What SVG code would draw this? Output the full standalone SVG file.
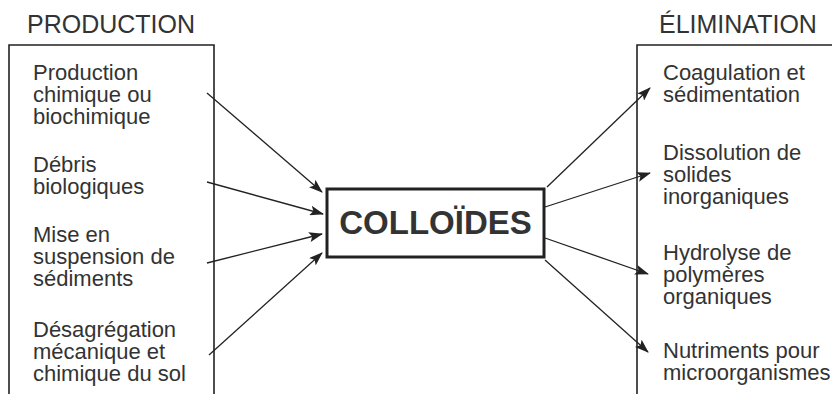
<svg xmlns="http://www.w3.org/2000/svg" width="832" height="394" viewBox="0 0 832 394">
<defs>
<style>
.t{font-family:"Liberation Sans",Arial,sans-serif;font-size:22px;fill:#333}
.h{font-family:"Liberation Sans",Arial,sans-serif;font-size:25px;fill:#333}
.frame{fill:none;stroke:#222;stroke-width:1.6}
.c{stroke:#222;stroke-width:1.3;fill:none;marker-end:url(#ah)}
</style>
<marker id="ah" markerUnits="userSpaceOnUse" markerWidth="14" markerHeight="10" refX="13" refY="5" orient="auto">
<path d="M0,0 L14,5 L0,10 L3,5 Z" fill="#222"/>
</marker>
</defs>
<rect width="832" height="394" fill="#fff"/>
<g id="production">
<text class="h" x="27" y="33">PRODUCTION</text>
<path class="frame" d="M9,394 V45 H214 V394"/>
<text class="t" x="33" y="80">Production</text>
<text class="t" x="33" y="102">chimique ou</text>
<text class="t" x="33" y="124">biochimique</text>
<text class="t" x="33" y="172">Débris</text>
<text class="t" x="33" y="194">biologiques</text>
<text class="t" x="33" y="242">Mise en</text>
<text class="t" x="33" y="264">suspension de</text>
<text class="t" x="33" y="286">sédiments</text>
<text class="t" x="33" y="337">Désagrégation</text>
<text class="t" x="33" y="359">mécanique et</text>
<text class="t" x="33" y="381">chimique du sol</text>
</g>
<g id="elimination">
<text class="h" x="659" y="33">ÉLIMINATION</text>
<path class="frame" d="M637,394 V45 H832"/>
<text class="t" x="663" y="80">Coagulation et</text>
<text class="t" x="663" y="102">sédimentation</text>
<text class="t" x="663" y="160">Dissolution de</text>
<text class="t" x="663" y="182">solides</text>
<text class="t" x="663" y="204">inorganiques</text>
<text class="t" x="663" y="260">Hydrolyse de</text>
<text class="t" x="663" y="282">polymères</text>
<text class="t" x="663" y="304">organiques</text>
<text class="t" x="663" y="358">Nutriments pour</text>
<text class="t" x="663" y="380">microorganismes</text>
</g>
<g id="colloides">
<rect x="327" y="189" width="217" height="68" fill="#fff" stroke="#222" stroke-width="3"/>
<text x="435.5" y="234" text-anchor="middle" font-family="'Liberation Sans',Arial,sans-serif" font-size="33" font-weight="bold" fill="#333">COLLOÏDES</text>
</g>
<g id="connectors">
<line class="c" x1="207" y1="93" x2="322" y2="192"/>
<line class="c" x1="207" y1="182" x2="323" y2="214"/>
<line class="c" x1="207" y1="263" x2="322" y2="234"/>
<line class="c" x1="209" y1="355" x2="322" y2="253"/>
<line class="c" x1="547" y1="187" x2="650" y2="88"/>
<line class="c" x1="545" y1="207" x2="650" y2="173"/>
<line class="c" x1="545" y1="238" x2="648" y2="274"/>
<line class="c" x1="545" y1="260" x2="648" y2="352"/>
</g>
</svg>
